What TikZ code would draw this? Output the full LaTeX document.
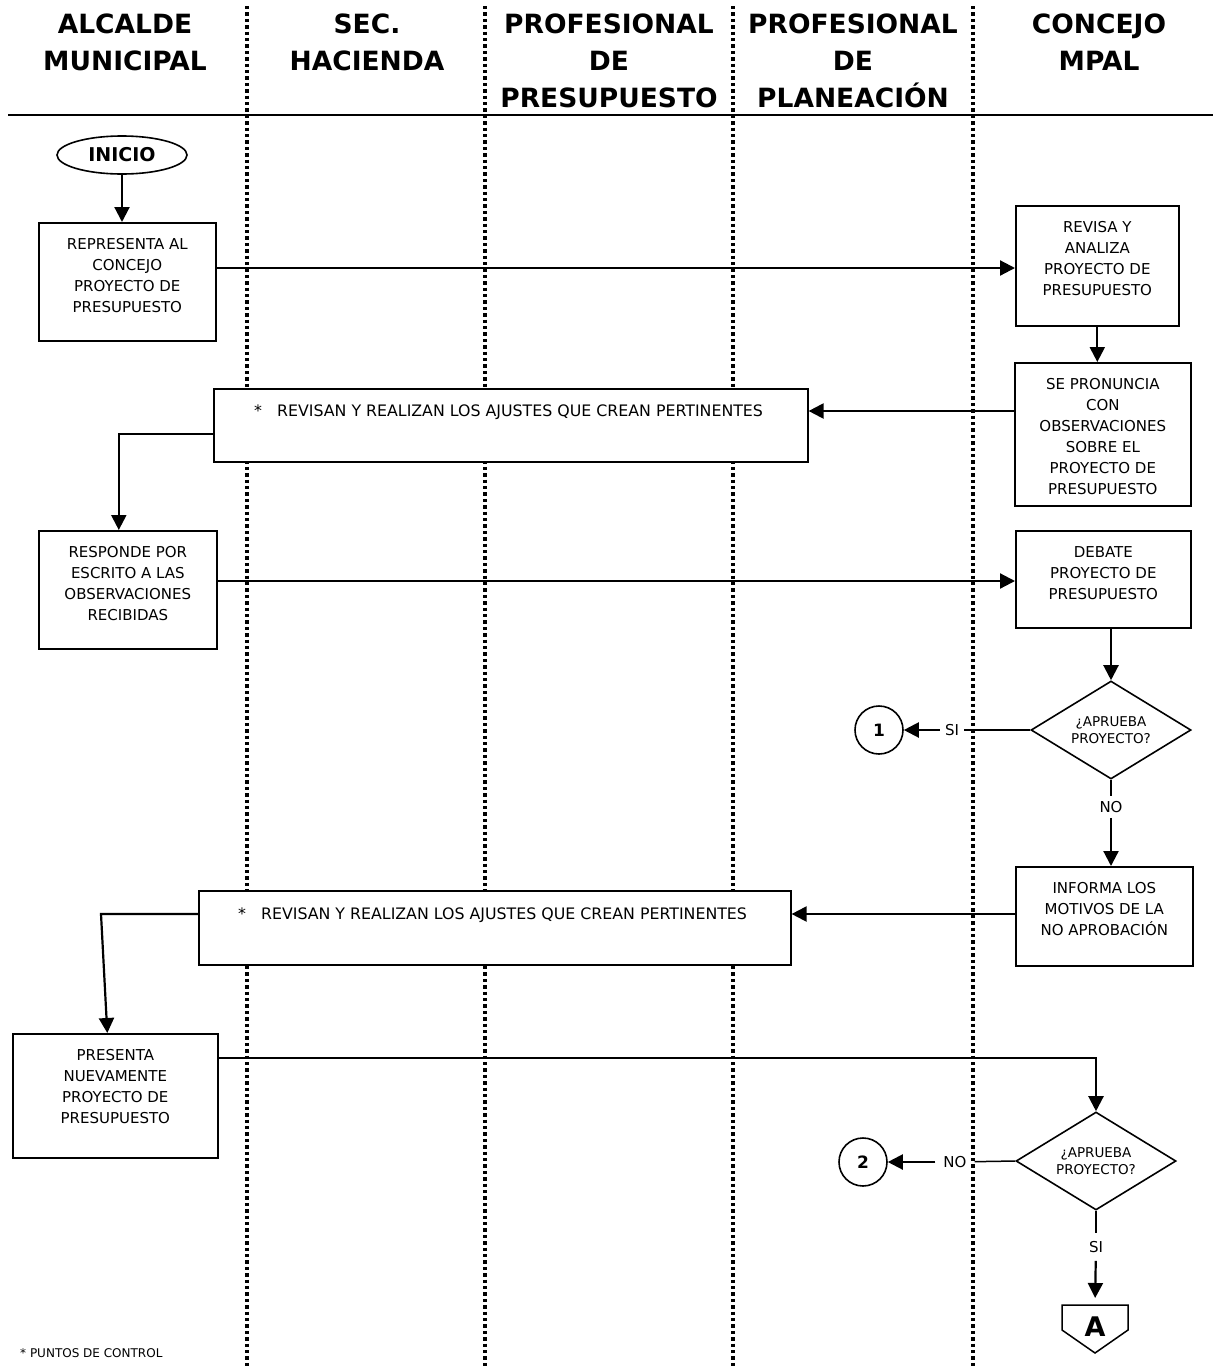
\documentclass[tikz,border=0pt]{standalone}
\usepackage{fontspec}
\setmainfont{DejaVu Sans}
\usetikzlibrary{arrows.meta,shapes.geometric,calc}

\tikzset{
  lane/.style={line width=3.4pt, dash pattern=on 3.4pt off 3pt},
  hdr/.style={font=\fontsize{26.5}{37}\selectfont\bfseries, align=center, anchor=north, inner sep=0pt},
  proc/.style={draw, line width=1.6pt, fill=white, anchor=north west, inner sep=0pt},
  btxt/.style={font=\fontsize{15}{21}\selectfont, align=center, anchor=north, inner sep=0pt},
  wtxt/.style={font=\fontsize{15.8}{21}\selectfont, anchor=north west, inner sep=0pt},
  decision/.style={draw, diamond, aspect=1.63, line width=1.6pt, fill=white, inner sep=0pt,
    minimum width=160pt, minimum height=98pt, font=\fontsize{13.5}{17}\selectfont, align=center},
  conn/.style={draw, circle, line width=1.6pt, fill=white, minimum size=48pt, inner sep=0pt,
    font=\fontsize{17}{17}\selectfont\bfseries},
  lbl/.style={font=\fontsize{15}{15}\selectfont, inner xsep=5pt, inner ysep=5pt},
  arr/.style={line width=2.2pt, -{Triangle[length=15pt,width=15pt]}},
  ln/.style={line width=1.5pt},
}

% process box: name, x, y (top left), width, height, text
\newcommand\procnode[6]{%
  \node[proc, minimum width=#4pt, minimum height=#5pt] (#1) at (#2,#3) {};
  \node[btxt] (#1-t) at ([yshift=-16.5pt]#1.north) {#6};}

\begin{document}
\begin{tikzpicture}[x=1pt,y=-1pt]
\useasboundingbox (0,0) rectangle (1213,1368);

% swimlane separators
\foreach \lx/\nm in {247/l1,485/l2,733/l3,973/l4} {
  \coordinate (\nm-top) at (\lx,6);
  \coordinate (\nm-bot) at (\lx,1368);
  \draw[lane] (\nm-top) -- (\nm-bot);
}

% header rule
\coordinate (hl) at (8,115);
\coordinate (hr) at (1213,115);
\draw[line width=2.2pt] (hl) -- (hr);

% lane titles
\node[hdr] (h1) at (125,14) {ALCALDE\\MUNICIPAL};
\node[hdr] (h2) at (367,14) {SEC.\\HACIENDA};
\node[hdr] (h3) at (609,14) {PROFESIONAL\\DE\\PRESUPUESTO};
\node[hdr] (h4) at (853,14) {PROFESIONAL\\DE\\PLANEACIÓN};
\node[hdr] (h5) at (1099,14) {CONCEJO\\MPAL};

% start
\node[draw, ellipse, line width=1.6pt, minimum width=130pt, minimum height=38pt, inner sep=0pt,
  font=\fontsize{19}{19}\selectfont\bfseries] (ini) at (122,155) {INICIO};

% process boxes
\procnode{b1}{38}{222}{177}{118}{REPRESENTA AL\\CONCEJO\\PROYECTO DE\\PRESUPUESTO}
\procnode{b2}{1015}{205}{163}{120}{REVISA Y\\ANALIZA\\PROYECTO DE\\PRESUPUESTO}
\procnode{b3}{1014}{362}{176}{143}{SE PRONUNCIA\\CON\\OBSERVACIONES\\SOBRE EL\\PROYECTO DE\\PRESUPUESTO}
\procnode{b4}{38}{530}{178}{118}{RESPONDE POR\\ESCRITO A LAS\\OBSERVACIONES\\RECIBIDAS}
\procnode{b5}{1015}{530}{175}{97}{DEBATE\\PROYECTO DE\\PRESUPUESTO}
\procnode{b6}{1015}{866}{177}{99}{INFORMA LOS\\MOTIVOS DE LA\\NO APROBACIÓN}
\procnode{b7}{12}{1033}{205}{124}{PRESENTA\\NUEVAMENTE\\PROYECTO DE\\PRESUPUESTO}

% shared review boxes
\node[proc, minimum width=594pt, minimum height=73pt] (w1) at (213,388) {};
\node[wtxt] (w1-t) at (254,405) {*\hspace{15pt}REVISAN Y REALIZAN LOS AJUSTES QUE CREAN PERTINENTES};
\node[proc, minimum width=592pt, minimum height=74pt] (w2) at (198,890) {};
\node[wtxt] (w2-t) at (238,908) {*\hspace{15pt}REVISAN Y REALIZAN LOS AJUSTES QUE CREAN PERTINENTES};

% decisions
\node[decision] (d1) at (1111,730) {¿APRUEBA\\PROYECTO?};
\node[decision] (d2) at (1096,1161) {¿APRUEBA\\PROYECTO?};

% connectors
\node[conn] (c1) at (879,730) {1};
\node[conn] (c2) at (863,1162) {2};

% off-page connector
\coordinate (Atop) at (1095,1305);
\draw[ln, fill=white] (1062,1305) -- (1128,1305) -- (1128,1330) -- (1095,1353) -- (1062,1330) -- cycle;
\node[font=\fontsize{27}{27}\selectfont\bfseries, inner sep=0pt] (offA) at (1095,1327) {A};

% branch labels
\node[lbl] (si1) at (952,730) {SI};
\node[lbl] (no1) at (1111,807) {NO};
\node[lbl, inner xsep=8pt] (no2) at (955,1162) {NO};
\node[lbl, inner ysep=8pt] (si2) at (1096,1247) {SI};

% flow
\draw[arr] (ini.south) -- (ini.south |- b1.north);

\coordinate (k1) at ([yshift=-46pt]b1.north east);
\draw[arr] (k1) -- (k1 -| b2.west);

\draw[arr] (b2.south) -- (b2.south |- b3.north);

\coordinate (k2) at ([yshift=-49pt]b3.north west);
\draw[arr] (k2) -- (k2 -| w1.east);

\coordinate (k3) at ([yshift=-46pt]w1.north west);
\coordinate (k3b) at ([xshift=-9pt]b4.north);
\draw[arr] (k3) -| (k3b);

\coordinate (k4) at ([yshift=-51pt]b4.north east);
\draw[arr] (k4) -- (k4 -| b5.west);

\draw[arr] (b5.south -| d1.north) -- (d1.north);

\draw[ln] (d1.west) -- (si1);
\draw[arr] (si1) -- (c1);

\draw[ln] (d1.south) -- (no1);
\draw[arr] (no1) -- (no1 |- b6.north);

\coordinate (k6) at ([yshift=-48pt]b6.north west);
\draw[arr] (k6) -- (k6 -| w2.east);

\coordinate (k7) at ([yshift=-24pt]w2.north west);
\coordinate (k7c) at (101,914);
\coordinate (k7b) at ([xshift=-8pt]b7.north);
\draw[arr] (k7) -- (k7c) -- (k7b);

\coordinate (k8) at ([yshift=-25pt]b7.north east);
\draw[arr] (k8) -| (d2.north);

\draw[ln] (d2.west) -- (no2);
\draw[arr] (no2) -- (c2);

\draw[ln] (d2.south) -- (si2);
\draw[arr, shorten >=7pt] (si2) -- (Atop);

% footnote
\node[anchor=base west, inner sep=0pt, font=\fontsize{12}{12}\selectfont] (foot) at (20,1357) {* PUNTOS DE CONTROL};
\end{tikzpicture}
\end{document}
